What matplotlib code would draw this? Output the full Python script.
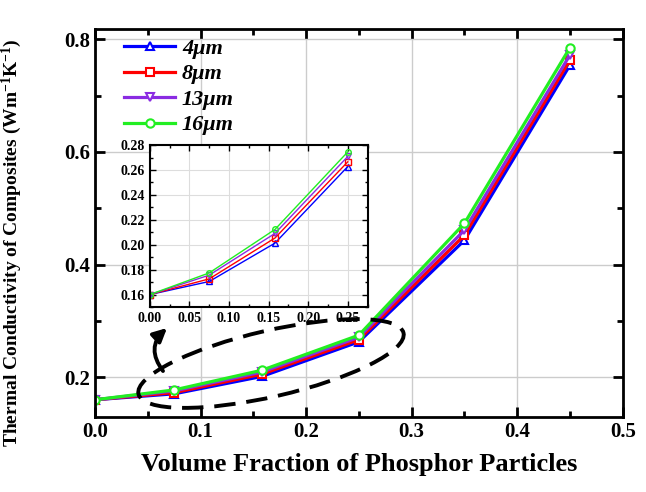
import numpy as np
import matplotlib
matplotlib.use("Agg")
import matplotlib.pyplot as plt
from matplotlib.patches import Ellipse
from matplotlib.ticker import MultipleLocator, FormatStrFormatter

plt.rcParams["font.family"] = ["Liberation Serif", "DejaVu Serif"]
plt.rcParams["font.weight"] = "bold"
plt.rcParams["mathtext.fontset"] = "custom"
plt.rcParams["mathtext.rm"] = "Liberation Serif:bold"
plt.rcParams["mathtext.it"] = "Liberation Serif:bold:italic"

# data
volume_fraction = [0.0, 0.075, 0.158, 0.25, 0.35, 0.45]
k_4um = [0.160, 0.1705, 0.2013, 0.2628, 0.443, 0.754]
k_8um = [0.160, 0.1726, 0.2054, 0.2666, 0.452, 0.763]
k_13um = [0.160, 0.1756, 0.2091, 0.2709, 0.461, 0.772]
k_16um = [0.160, 0.1774, 0.2123, 0.2746, 0.473, 0.785]
labels = ["4\u03bcm", "8\u03bcm", "13\u03bcm", "16\u03bcm"]
n_inset = 4  # inset shows the first four points

series = [k_4um, k_8um, k_13um, k_16um]
colors = ["#0000ff", "#ff0000", "#8a2be2", "#22ee22"]
markers = ["^", "s", "v", "o"]

fig = plt.figure(figsize=(6.46, 4.92), dpi=100)
ax = fig.add_axes([0.147, 0.152, 0.817, 0.789])

for y, c, m, lab in zip(series, colors, markers, labels):
    ax.plot(volume_fraction, y, color=c, marker=m, lw=2.3, ms=6,
            mfc="white", mew=1.5, label=lab)

ax.set_xlim(0, 0.5)
ax.set_ylim(0.129, 0.818)
ax.xaxis.set_major_locator(MultipleLocator(0.1))
ax.xaxis.set_minor_locator(MultipleLocator(0.05))
ax.yaxis.set_major_locator(MultipleLocator(0.2))
ax.yaxis.set_minor_locator(MultipleLocator(0.1))
ax.grid(True, which="major", color="#cccccc", lw=1)
ax.set_axisbelow(True)
ax.tick_params(which="both", direction="in", top=True, right=True, width=2,
               labelsize=15)
ax.tick_params(which="major", length=7)
ax.tick_params(which="minor", length=4)
for sp in ax.spines.values():
    sp.set_linewidth(2)

ax.set_xlabel("Volume Fraction of Phosphor Particles", fontsize=19,
              fontweight="bold", labelpad=8)
ax.set_ylabel("Thermal Conductivity of Composites (Wm$^{-1}$K$^{-1}$)",
              fontsize=14, fontweight="bold")
ax.yaxis.set_label_coords(-0.135, 0.45)

leg = ax.legend(loc="upper left", bbox_to_anchor=(0.03, 1.01), frameon=False,
                prop={"size": 16, "weight": "bold", "style": "italic"},
                handlelength=2.3, handletextpad=0.3, labelspacing=0.22,
                borderaxespad=0.2)

# inset
axin = fig.add_axes([0.232, 0.376, 0.337, 0.329])
for y, c, m in zip(series, colors, markers):
    axin.plot(volume_fraction[:n_inset], y[:n_inset], color=c, marker=m,
              lw=1, ms=4, mfc="none", mew=1)
axin.set_xlim(0, 0.275)
axin.set_ylim(0.15, 0.28)
axin.xaxis.set_major_locator(MultipleLocator(0.05))
axin.xaxis.set_minor_locator(MultipleLocator(0.025))
axin.yaxis.set_major_locator(MultipleLocator(0.02))
axin.yaxis.set_minor_locator(MultipleLocator(0.01))
axin.xaxis.set_major_formatter(FormatStrFormatter("%.2f"))
axin.yaxis.set_major_formatter(FormatStrFormatter("%.2f"))
axin.grid(True, which="major", color="#dddddd", lw=0.8)
axin.set_axisbelow(True)
axin.tick_params(which="both", direction="in", top=True, right=True,
                 width=1, labelsize=10)
axin.tick_params(which="major", length=4)
axin.tick_params(which="minor", length=2)
for sp in axin.spines.values():
    sp.set_linewidth(1.5)

# dashed ellipse and arrow
ell = Ellipse((2.71, 1.285), 2.72, 0.66, angle=13, transform=fig.dpi_scale_trans,
              fill=False, ec="black", lw=2.8, ls=(0, (5.5, 2.8)), clip_on=False,
              zorder=5)
ax.add_patch(ell)
ax.annotate("", xy=(167, 164), xycoords="figure pixels",
            xytext=(163, 121), textcoords="figure pixels",
            arrowprops=dict(arrowstyle="-|>", color="black", lw=2.8,
                            mutation_scale=20, shrinkA=0, shrinkB=0,
                            connectionstyle="arc3,rad=-0.45"))

fig.savefig("out.png", dpi=100)
